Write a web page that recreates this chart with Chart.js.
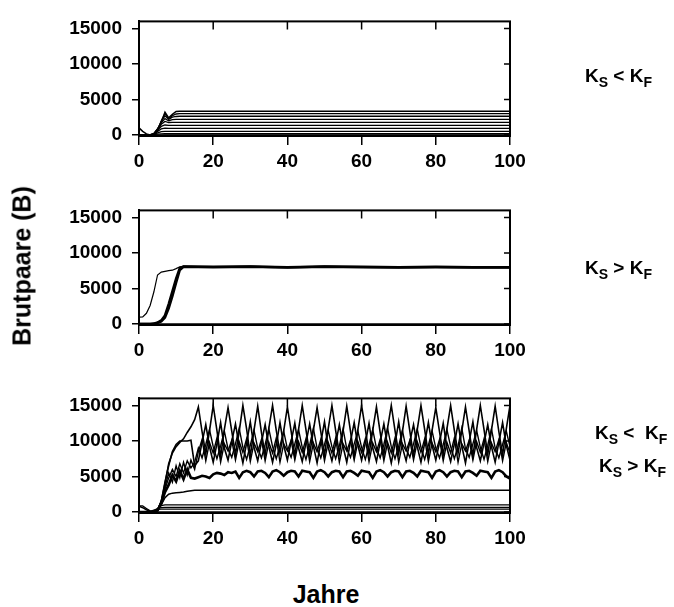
<!DOCTYPE html>
<html>
<head>
<meta charset="utf-8">
<script src="https://cdn.jsdelivr.net/npm/chart.js@4"></script>
<style>
  body { margin: 0; background: #fff; width: 674px; height: 607px; position: relative; overflow: hidden;
         font-family: 'Liberation Sans', Arial, sans-serif; font-weight: bold; color: #000; }
  canvas { position: absolute; left: 0; }
  .lbl { position: absolute; font-size: 19px; white-space: pre; }
  .lbl sub { font-size: 14px; vertical-align: -5px; }
  #ytitle { position: absolute; font-size: 25px; left: 22px; top: 266px; transform: translate(-50%, -50%) rotate(-90deg); white-space: nowrap; }
  #xtitle { position: absolute; font-size: 25px; left: 326px; top: 594px; transform: translate(-50%, -50%); }
</style>
</head>
<body>
<canvas id="c1" width="674" height="181" style="top:0px"></canvas>
<canvas id="c2" width="674" height="181" style="top:189px"></canvas>
<canvas id="c3" width="674" height="181" style="top:377px"></canvas>
<div id="ytitle">Brutpaare (B)</div>
<div id="xtitle">Jahre</div>
<div class="lbl" style="left:585px; top:65px">K<sub>S</sub> &lt; K<sub>F</sub></div>
<div class="lbl" style="left:585px; top:257px">K<sub>S</sub> &gt; K<sub>F</sub></div>
<div class="lbl" style="left:595px; top:422px">K<sub>S</sub> &lt;  K<sub>F</sub></div>
<div class="lbl" style="left:599px; top:455px">K<sub>S</sub> &gt; K<sub>F</sub></div>
<script>
// axis ticks
const xTicks = [0, 20, 40, 60, 80, 100];
const yTicks = [0, 5000, 10000, 15000];

// --- panel 1: K_S < K_F ---
const p1Years = [0, 1, 2, 3, 4, 5, 6, 7, 8, 9, 10, 11, 12, 100];
const p1L1 = [1000, 500, 150, 0, 50, 600, 1800, 3200, 2400, 2900, 3300, 3350, 3350, 3350];
const p1L2 = [0, 0, 0, 0, 100, 700, 2000, 3000, 2300, 2700, 2950, 3000, 3000, 3000];
const p1L3 = [0, 0, 0, 0, 150, 800, 1900, 2700, 2200, 2500, 2600, 2630, 2630, 2630];
const p1L4 = [0, 0, 0, 50, 200, 900, 1700, 2300, 2000, 2150, 2200, 2200, 2200, 2200];
const p1L5 = [0, 0, 0, 0, 200, 800, 1500, 1900, 1750, 1780, 1780, 1780, 1780, 1780];
const p1L6 = [0, 0, 0, 0, 150, 700, 1200, 1400, 1360, 1360, 1360, 1360, 1360, 1360];
const p1L7 = [0, 0, 0, 0, 100, 500, 850, 950, 930, 930, 930, 930, 930, 930];
const p1L8 = [0, 0, 0, 0, 80, 300, 480, 510, 510, 510, 510, 510, 510, 510];
const p1L9 = [0, 0, 0, 0, 50, 120, 160, 170, 170, 170, 170, 170, 170, 170];
const p1L0 = [0, 0, 0, 0, 0, 0, 0, 0, 0, 0, 0, 0, 0, 0];

// --- panel 2: K_S > K_F ---
const p2Years = [0, 1, 2, 3, 4, 5, 6, 7, 8, 9, 10, 11, 12, 20, 30, 40, 50, 60, 70, 80, 90, 100];
const p2Thin = [950, 1000, 1500, 2600, 4500, 6900, 7300, 7400, 7500, 7570, 7800, 8050, 8100, 8050, 8100, 8000, 8100, 8050, 8000, 8050, 8000, 8000];
const p2T1 = [0, 0, 0, 0, 50, 200, 500, 1200, 2800, 4600, 6400, 7900, 8100, 8050, 8100, 8000, 8100, 8050, 8000, 8050, 8000, 8000];
const p2T2 = [0, 0, 0, 0, 30, 150, 350, 900, 2200, 3900, 5800, 7600, 8050, 8000, 8050, 7950, 8050, 8000, 7950, 8000, 7950, 7950];
const p2Zero = [0, 0, 0, 0, 0, 0, 0, 0, 0, 0, 0, 0, 0, 0, 0, 0, 0, 0, 0, 0, 0, 0];

// --- panel 3: both cases ---
const p3Years = [
  0, 1, 2, 3, 4, 5, 6, 7, 8, 9, 10, 11, 12, 13, 14, 15, 16, 17, 18, 19,
  20, 21, 22, 23, 24, 25, 26, 27, 28, 29, 30, 31, 32, 33, 34, 35, 36, 37, 38, 39,
  40, 41, 42, 43, 44, 45, 46, 47, 48, 49, 50, 51, 52, 53, 54, 55, 56, 57, 58, 59,
  60, 61, 62, 63, 64, 65, 66, 67, 68, 69, 70, 71, 72, 73, 74, 75, 76, 77, 78, 79,
  80, 81, 82, 83, 84, 85, 86, 87, 88, 89, 90, 91, 92, 93, 94, 95, 96, 97, 98, 99, 100];
const p3A = [
  800, 600, 300, 100, 50, 300, 1500, 4000, 6800, 8300, 9200, 9800, 10300, 11200, 12000, 13000,
  14800, 11300, 8200, 11400, 15000, 11500, 7800, 11600, 14700, 11400, 8100, 11300,
  15000, 11700, 7900, 11500, 14900, 11200, 8000, 11800, 15000, 11500, 8300, 11400,
  14800, 11400, 7900, 11600, 15000, 11600, 8100, 11500, 14700, 11300, 8000, 11700,
  15000, 11500, 8200, 11400, 14900, 11400, 7800, 11600, 15000, 11700, 8100, 11500,
  14800, 11200, 8000, 11800, 15000, 11500, 8200, 11300, 14900, 11400, 7900, 11600,
  15000, 11600, 8100, 11500, 14700, 11300, 8000, 11700, 15000, 11500, 8300, 11400,
  14800, 11400, 7900, 11600, 15000, 11600, 8100, 11500, 14900, 11300, 8000, 11700, 15000];
const p3B = [
  0, 0, 0, 0, 0, 200, 1500, 4200, 6500, 8500, 9500, 10000, 10000, 10000, 10100, 6500,
  7200, 9800, 12300, 9200, 7000, 9600, 12600, 9000, 7300, 9900, 12400, 9300,
  6900, 9700, 12700, 9100, 7200, 9800, 12300, 9200, 7000, 9500, 12600, 9400,
  7300, 9900, 12500, 9000, 7100, 9700, 12400, 9300, 6900, 9800, 12700, 9100,
  7200, 9600, 12300, 9200, 7000, 9900, 12600, 9400, 7300, 9700, 12500, 9000,
  7100, 9800, 12400, 9300, 6900, 9600, 12700, 9100, 7200, 9900, 12300, 9200,
  7000, 9700, 12600, 9400, 7300, 9800, 12500, 9000, 7100, 9600, 12400, 9300,
  6900, 9900, 12700, 9100, 7200, 9700, 12300, 9200, 7000, 9800, 12600, 9400, 7300];
const p3C = [
  0, 0, 0, 0, 0, 300, 1500, 3500, 5500, 4200, 6500, 4800, 7000, 5200, 7300, 6000,
  8500, 10200, 7200, 9800, 8300, 10400, 7000, 9600, 8600, 10100, 7300, 9900,
  8400, 10300, 7100, 9700, 8500, 10200, 7200, 9800, 8300, 10400, 7000, 9600,
  8600, 10100, 7300, 9900, 8400, 10300, 7100, 9700, 8500, 10200, 7200, 9800,
  8300, 10400, 7000, 9600, 8600, 10100, 7300, 9900, 8400, 10300, 7100, 9700,
  8500, 10200, 7200, 9800, 8300, 10400, 7000, 9600, 8600, 10100, 7300, 9900,
  8400, 10300, 7100, 9700, 8500, 10200, 7200, 9800, 8300, 10400, 7000, 9600,
  8600, 10100, 7300, 9900, 8400, 10300, 7100, 9700, 8500, 10200, 7200, 9800, 8300];
const p3F = [
  0, 0, 0, 0, 0, 250, 1300, 3200, 4800, 6000, 5000, 6800, 5500, 7200, 6200, 7000,
  9000, 7600, 9500, 11600, 9200, 7500, 9300, 11400, 8900, 7700, 9600, 11800,
  9100, 7400, 9400, 11500, 9000, 7600, 9500, 11700, 9200, 7500, 9300, 11400,
  8900, 7700, 9600, 11600, 9100, 7400, 9400, 11800, 9000, 7600, 9500, 11500,
  9200, 7500, 9300, 11700, 8900, 7700, 9600, 11400, 9100, 7400, 9400, 11600,
  9000, 7600, 9500, 11800, 9200, 7500, 9300, 11500, 8900, 7700, 9600, 11700,
  9100, 7400, 9400, 11400, 9000, 7600, 9500, 11600, 9200, 7500, 9300, 11800,
  8900, 7700, 9600, 11500, 9100, 7400, 9400, 11700, 9000, 7600, 9500, 11400, 9200];
const p3D = [
  0, 0, 0, 0, 0, 200, 1200, 2800, 3800, 5200, 4300, 5800, 4600, 6000, 4800, 4700,
  4900, 5100, 5000, 4800, 5300, 5500, 5400, 5200, 5600, 5500, 5700, 4800,
  5600, 5800, 5600, 5000, 5700, 5800, 5500, 4900, 5700, 5900, 5600, 5100,
  5600, 5800, 5700, 5000, 5800, 5700, 5600, 4800, 5700, 5900, 5600, 5000,
  5600, 5800, 5700, 4900, 5700, 5800, 5500, 5100, 5800, 5700, 5600, 4800,
  5700, 5900, 5600, 5000, 5600, 5800, 5700, 4900, 5700, 5800, 5500, 5000,
  5800, 5700, 5600, 4800, 5700, 5900, 5600, 5000, 5600, 5800, 5700, 4900,
  5700, 5800, 5500, 5100, 5800, 5700, 5600, 4800, 5700, 5900, 5600, 5000, 4700];
const p3FlatYears = [0, 1, 2, 3, 4, 5, 6, 7, 8, 9, 10, 11, 12, 13, 14, 15, 100];
const p3E = [0, 0, 0, 0, 0, 200, 1000, 2000, 2500, 2650, 2700, 2750, 2800, 2900, 3000, 3050, 3050];
const p3Low1 = [850, 850, 500, 150, 50, 400, 900, 1000, 1000, 1000, 1000, 1000, 1000, 1000, 1000, 1000, 1000];
const p3Low2 = [0, 0, 0, 0, 200, 500, 600, 650, 650, 650, 650, 650, 650, 650, 650, 650, 650];
const p3Low3 = [0, 0, 0, 100, 250, 350, 400, 400, 400, 400, 400, 400, 400, 400, 400, 400, 400];
const p3Zero = [0, 0, 0, 0, 0, 0, 0, 0, 0, 0, 0, 0, 0, 0, 0, 0, 0];

Chart.defaults.font.family = "'Liberation Sans', Arial, sans-serif";
Chart.defaults.font.weight = 'bold';
Chart.defaults.color = '#000';

function pts(xs, ys) {
  return xs.map((x, i) => ({ x: x, y: ys[i] }));
}

function line(xs, ys, w) {
  return { data: pts(xs, ys), borderColor: '#000', borderWidth: w || 1.3, pointRadius: 0, tension: 0, fill: false };
}

// box round the plot plus inward ticks on top and right
const boxPlugin = {
  id: 'box',
  afterDraw(chart) {
    const { ctx, chartArea: a, scales } = chart;
    ctx.save();
    ctx.strokeStyle = '#000';
    ctx.lineWidth = 2;
    ctx.strokeRect(a.left, a.top, a.right - a.left, a.bottom - a.top);
    ctx.lineWidth = 1.5;
    ctx.beginPath();
    xTicks.forEach(v => {
      const px = scales.x.getPixelForValue(v);
      ctx.moveTo(px, a.top);
      ctx.lineTo(px, a.top + 8);
    });
    yTicks.forEach(v => {
      const py = scales.y.getPixelForValue(v);
      ctx.moveTo(a.right, py);
      ctx.lineTo(a.right - 6, py);
    });
    ctx.stroke();
    ctx.restore();
  }
};

function makeChart(id, datasets) {
  return new Chart(document.getElementById(id), {
    type: 'line',
    data: { datasets: datasets },
    options: {
      responsive: false,
      animation: false,
      layout: { padding: { left: 0, right: 164, top: 9, bottom: 0 } },
      plugins: { legend: { display: false }, tooltip: { enabled: false } },
      scales: {
        x: {
          type: 'linear', min: 0, max: 100,
          afterBuildTicks: s => { s.ticks = xTicks.map(v => ({ value: v })); },
          afterFit: s => { s.height = 45; },
          grid: { drawOnChartArea: false, tickLength: 9, color: '#000', lineWidth: 1.5 },
          border: { color: '#000', width: 2 },
          ticks: { font: { size: 19, weight: 'bold' }, padding: 5, maxRotation: 0, callback: v => String(v) }
        },
        y: {
          type: 'linear', min: -150, max: 16000,
          afterBuildTicks: s => { s.ticks = yTicks.map(v => ({ value: v })); },
          afterFit: s => { s.width = 139; },
          grid: { drawOnChartArea: false, tickLength: 7, color: '#000', lineWidth: 1.5 },
          border: { color: '#000', width: 2 },
          ticks: { font: { size: 19, weight: 'bold' }, padding: 10, callback: v => String(v) }
        }
      }
    },
    plugins: [boxPlugin]
  });
}

makeChart('c1', [
  line(p1Years, p1L1, 1.5), line(p1Years, p1L2), line(p1Years, p1L3), line(p1Years, p1L4),
  line(p1Years, p1L5), line(p1Years, p1L6), line(p1Years, p1L7), line(p1Years, p1L8),
  line(p1Years, p1L9), line(p1Years, p1L0)
]);

makeChart('c2', [
  line(p2Years, p2Thin, 1.2), line(p2Years, p2T1, 2.5), line(p2Years, p2T2, 2.5), line(p2Years, p2Zero, 1.5)
]);

makeChart('c3', [
  line(p3Years, p3A, 1.6), line(p3Years, p3B, 1.6), line(p3Years, p3C, 1.4), line(p3Years, p3F, 1.4),
  line(p3Years, p3D, 2.6),
  line(p3FlatYears, p3E, 1.5), line(p3FlatYears, p3Low1, 1.2), line(p3FlatYears, p3Low2, 1.2),
  line(p3FlatYears, p3Low3, 1.2), line(p3FlatYears, p3Zero, 1.5)
]);
</script>
</body>
</html>
